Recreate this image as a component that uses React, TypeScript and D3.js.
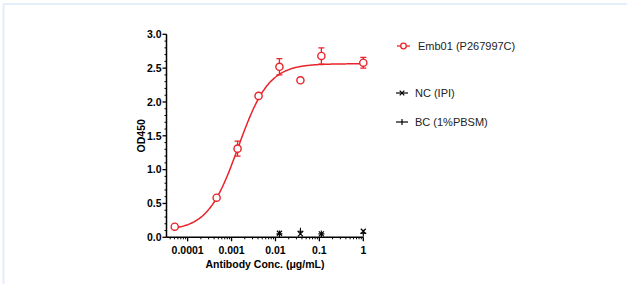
import React from "react";
import * as d3 from "d3";

// Emb01 (P267997C) – 3-fold dilution series
const embConc = [1, 0.111, 0.037, 0.0123, 0.00412, 0.00137, 0.000457, 0.0000508];
const embOD = [2.58, 2.68, 2.32, 2.52, 2.09, 1.31, 0.585, 0.157];
const embErr = [0.08, 0.12, 0, 0.12, 0.03, 0.11, 0.02, 0.01];

// controls
const ctrlConc = [0.0123, 0.037, 0.111, 1];
const ncOD = [0.06, 0.05, 0.05, 0.09];
const bcOD = [0.05, 0.09, 0.05, 0.06];

// 4PL fit of Emb01
const fitBottom = 0.1;
const fitTop = 2.565;
const fitEC50 = 0.00142;
const fitHill = 1.25;

const yTicks = [0, 0.5, 1.0, 1.5, 2.0, 2.5, 3.0];
const xTicks = [0.0001, 0.001, 0.01, 0.1, 1];
const xTickLabels = ["0.0001", "0.001", "0.01", "0.1", "1"];

const legendItems = ["Emb01 (P267997C)", "NC (IPI)", "BC (1%PBSM)"];

const RED = "#e8232a";
const FONT = "'Liberation Sans', Arial, sans-serif";

const W = 630;
const H = 284;

const App = () => {
    const x = d3.scaleLog().domain([3.3e-5, 1]).range([166.5, 363.3]);
    const y = d3.scaleLinear().domain([0, 3]).range([237.3, 34.3]);

    const fit = (c) => fitBottom + (fitTop - fitBottom) / (1 + Math.pow(fitEC50 / c, fitHill));
    const curveXs = d3.range(0, 201).map((i) => Math.pow(10, Math.log10(0.0000508) + (i / 200) * (0 - Math.log10(0.0000508))));
    const line = d3.line<number>().x((c) => x(c)).y((c) => y(fit(c))).curve(d3.curveMonotoneX);

    const minorY = d3.range(0, 31).map((i) => i / 10).filter((v) => Math.round(v * 10) % 5 !== 0);
    const minorX = [];
    for (let e = -5; e < 0; e++) {
        for (let m = 2; m <= 9; m++) {
            const v = m * Math.pow(10, e);
            if (v >= 3.3e-5 && v <= 1) minorX.push(v);
        }
    }

    const x0 = x.range()[0];
    const y0 = y(0);
    const legendY = [46, 93, 122];
    const cross = (cx, cy, s) => `M${cx - s},${cy - s}L${cx + s},${cy + s}M${cx - s},${cy + s}L${cx + s},${cy - s}`;

    return (
        <svg width={W} height={H} style={{ position: "absolute", left: 0, top: 0, background: "#fff" }} fontFamily={FONT}>
            {/* frame edge */}
            <line x1={3} x2={627} y1={4} y2={4} stroke="#e4eefa" strokeWidth={2} />
            <line x1={3.5} x2={3.5} y1={4} y2={284} stroke="#e4eefa" strokeWidth={2} />

            {/* y axis */}
            <line x1={x0} x2={x0} y1={y(3)} y2={y0} stroke="#000" strokeWidth={1.5} />
            {yTicks.map((t) => (
                <g key={t}>
                    <line x1={x0 - 4} x2={x0} y1={y(t)} y2={y(t)} stroke="#000" strokeWidth={1.3} />
                    <text x={x0 - 5} y={y(t)} dy="0.36em" textAnchor="end" fontSize={10.5} fontWeight="bold">{t.toFixed(1)}</text>
                </g>
            ))}
            {minorY.map((t) => (
                <line key={t} x1={x0 - 2} x2={x0} y1={y(t)} y2={y(t)} stroke="#000" strokeWidth={1} />
            ))}
            <text transform={`translate(145,${(y(0) + y(3)) / 2}) rotate(-90)`} textAnchor="middle" fontSize={10.5} fontWeight="bold">OD450</text>

            {/* x axis */}
            <line x1={x0} x2={x(1)} y1={y0} y2={y0} stroke="#000" strokeWidth={1.5} />
            {xTicks.map((t, i) => (
                <g key={t}>
                    <line x1={x(t)} x2={x(t)} y1={y0} y2={y0 + 4} stroke="#000" strokeWidth={1.3} />
                    <text x={x(t)} y={y0 + 17} textAnchor="middle" fontSize={10.5} fontWeight="bold">{xTickLabels[i]}</text>
                </g>
            ))}
            {minorX.map((t) => (
                <line key={t} x1={x(t)} x2={x(t)} y1={y0} y2={y0 + 2} stroke="#000" strokeWidth={1} />
            ))}
            <text x={(x0 + x(1)) / 2} y={268} textAnchor="middle" fontSize={10.5} fontWeight="bold">Antibody Conc. (μg/mL)</text>

            {/* controls */}
            {ctrlConc.map((c, i) => (
                <path key={"nc" + i} d={cross(x(c), y(ncOD[i]), 2.5)} stroke="#000" strokeWidth={1.2} fill="none" />
            ))}
            {ctrlConc.map((c, i) => (
                <path key={"bc" + i} d={`M${x(c) - 3},${y(bcOD[i])}H${x(c) + 3}M${x(c)},${y(bcOD[i]) - 3.5}V${y(bcOD[i]) + 3.5}`} stroke="#000" strokeWidth={1.1} fill="none" />
            ))}

            {/* fit curve */}
            <path d={line(curveXs)} fill="none" stroke={RED} strokeWidth={1.5} />

            {/* Emb01 points */}
            {embConc.map((c, i) => {
                const cx = x(c);
                const e = embErr[i];
                return (
                    <g key={c}>
                        {e > 0.025 && (
                            <path d={`M${cx},${y(embOD[i] - e)}V${y(embOD[i] + e)}M${cx - 3},${y(embOD[i] + e)}H${cx + 3}M${cx - 3},${y(embOD[i] - e)}H${cx + 3}`} stroke={RED} strokeWidth={1.3} fill="none" />
                        )}
                        <circle cx={cx} cy={y(embOD[i])} r={3.6} fill="#fff" stroke={RED} strokeWidth={1.4} />
                    </g>
                );
            })}

            {/* legend */}
            <line x1={397} x2={410} y1={legendY[0]} y2={legendY[0]} stroke={RED} strokeWidth={1.3} />
            <circle cx={403.5} cy={legendY[0]} r={2.8} fill="#fff" stroke={RED} strokeWidth={1.3} />
            <line x1={396} x2={408} y1={legendY[1]} y2={legendY[1]} stroke="#000" strokeWidth={1.2} />
            <path d={cross(402, legendY[1], 2.3)} stroke="#000" strokeWidth={1.2} fill="none" />
            <line x1={396} x2={408} y1={legendY[2]} y2={legendY[2]} stroke="#000" strokeWidth={1.2} />
            <line x1={402} x2={402} y1={legendY[2] - 3} y2={legendY[2] + 3} stroke="#000" strokeWidth={1.2} />
            {legendItems.map((t, i) => (
                <text key={t} x={i === 0 ? 418 : 415} y={legendY[i]} dy="0.36em" fontSize={11} fill="#222">{t}</text>
            ))}
        </svg>
    );
};

export default App;
